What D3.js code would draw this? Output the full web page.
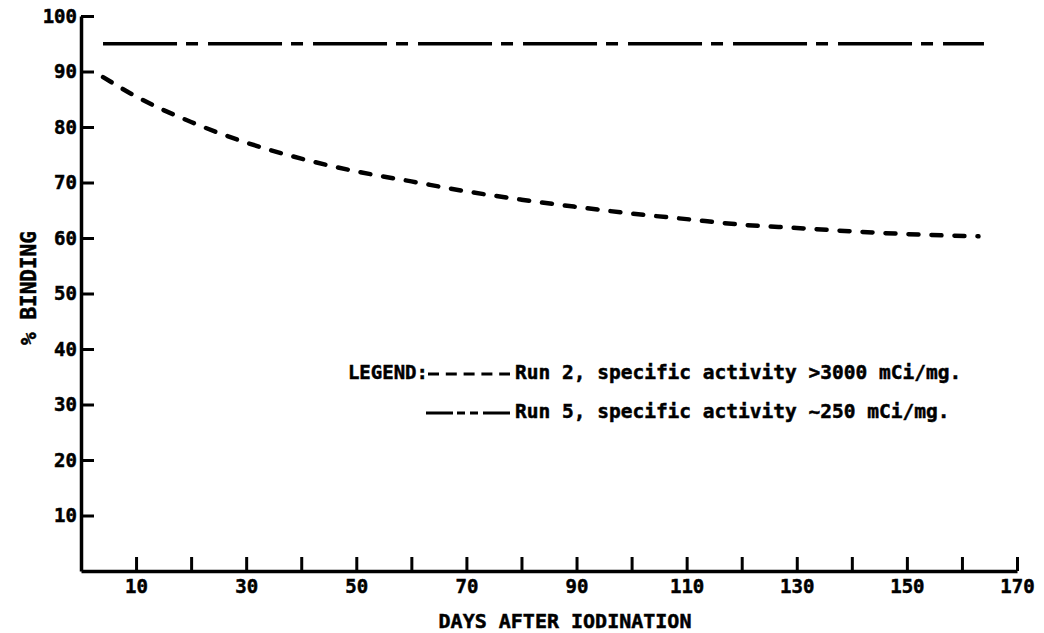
<!DOCTYPE html>
<html>
<head>
<meta charset="utf-8">
<script src="https://cdn.jsdelivr.net/npm/d3@7"></script>
<style>
  html, body { margin: 0; padding: 0; background: #fff; }
  svg { display: block; }
  text { font-family: "DejaVu Sans Mono", monospace; font-weight: bold; fill: #000; stroke: #000; stroke-width: 0.5px; }
</style>
</head>
<body>
<svg id="chart" width="1044" height="633"></svg>
<script>
// ---- Data ----
const run2Days   = [4, 10, 20, 30, 40, 50, 60, 70, 80, 90, 100, 110, 120, 130, 140, 150, 163];
const run2Values = [89.0, 85.5, 80.9, 77.2, 74.3, 72.0, 70.2, 68.4, 66.9, 65.6, 64.4, 63.4, 62.4, 61.8, 61.2, 60.7, 60.3];
const run5Days   = [4, 164];
const run5Values = [95, 95];
const xTicks = [10, 20, 30, 40, 50, 60, 70, 80, 90, 100, 110, 120, 130, 140, 150, 160, 170];
const xTickLabels = [10, 30, 50, 70, 90, 110, 130, 150, 170];
const yTicks = [10, 20, 30, 40, 50, 60, 70, 80, 90, 100];
const legendLabels = ["Run 2, specific activity >3000 mCi/mg.", "Run 5, specific activity ~250 mCi/mg."];
const xTitle = "DAYS AFTER IODINATION";
const yTitle = "% BINDING";

// ---- Layout ----
const svg = d3.select("#chart");
const x = d3.scaleLinear().domain([0, 170]).range([81, 1017]);
const y = d3.scaleLinear().domain([0, 100]).range([571, 16]);

// X axis
const xAxis = d3.axisBottom(x)
  .tickValues(xTicks)
  .tickSize(-14)
  .tickSizeOuter(0)
  .tickPadding(9)
  .tickFormat(d => xTickLabels.includes(d) ? d : "");
const gx = svg.append("g").attr("transform", `translate(0,${y(0)})`).call(xAxis);
gx.select(".domain").attr("stroke", "#000").attr("stroke-width", 3.5);
gx.selectAll(".tick line").attr("stroke", "#000").attr("stroke-width", 3);
gx.selectAll(".tick text").attr("font-size", 19).attr("font-family", "DejaVu Sans Mono").attr("font-weight", "bold");

// Y axis
const yAxis = d3.axisLeft(y)
  .tickValues(yTicks)
  .tickSize(-13)
  .tickSizeOuter(0)
  .tickPadding(4);
const gy = svg.append("g").attr("transform", `translate(${x(0)},0)`).call(yAxis);
gy.select(".domain").attr("stroke", "#000").attr("stroke-width", 3.5);
gy.selectAll(".tick line").attr("stroke", "#000").attr("stroke-width", 3);
gy.selectAll(".tick text").attr("font-size", 19).attr("font-family", "DejaVu Sans Mono").attr("font-weight", "bold");

// Axis titles
svg.append("text")
  .attr("x", 565).attr("y", 628)
  .attr("text-anchor", "middle")
  .attr("font-size", 20)
  .text(xTitle);
svg.append("text")
  .attr("transform", "translate(36,288) rotate(-90)")
  .attr("text-anchor", "middle")
  .attr("font-size", 21)
  .text(yTitle);

// Lines
const line = d3.line().x(d => x(d[0])).y(d => y(d[1])).curve(d3.curveMonotoneX);

svg.append("path")
  .datum(run5Days.map((d, i) => [d, run5Values[i]]))
  .attr("d", line)
  .attr("fill", "none")
  .attr("stroke", "#000")
  .attr("stroke-width", 3.5)
  .attr("stroke-dasharray", "74,9,12,10");

svg.append("path")
  .datum(run2Days.map((d, i) => [d, run2Values[i]]))
  .attr("d", line)
  .attr("fill", "none")
  .attr("stroke", "#000")
  .attr("stroke-width", 4.5)
  .attr("stroke-linecap", "round")
  .attr("stroke-dasharray", "10,13");

// Legend
const lg = svg.append("g");
lg.append("text").attr("x", 428).attr("y", 379).attr("text-anchor", "end").attr("font-size", 19).text("LEGEND:");
lg.append("line").attr("x1", 428).attr("x2", 510).attr("y1", 374).attr("y2", 374)
  .attr("stroke", "#000").attr("stroke-width", 3).attr("stroke-dasharray", "11,6.8");
lg.append("line").attr("x1", 426).attr("x2", 510).attr("y1", 413).attr("y2", 413)
  .attr("stroke", "#000").attr("stroke-width", 3).attr("stroke-dasharray", "27,4,8,5,8,5,27");
lg.selectAll("text.lab").data(legendLabels).enter().append("text")
  .attr("class", "lab")
  .attr("x", 515)
  .attr("y", (d, i) => 379 + i * 39)
  .attr("font-size", 19.5)
  .text(d => d);
</script>
</body>
</html>
